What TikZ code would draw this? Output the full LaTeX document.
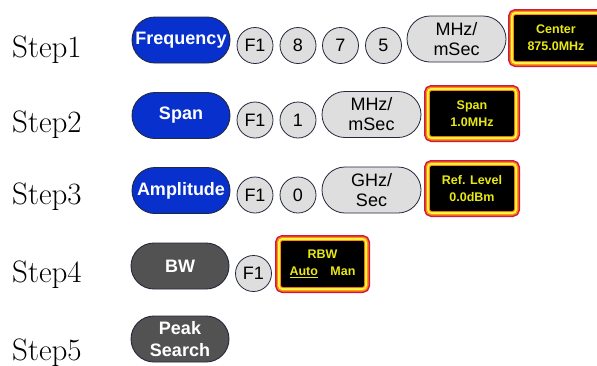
\documentclass[tikz,border=0pt]{standalone}
\usepackage{fontspec}
\usepackage{tikz}
\usetikzlibrary{shapes.misc}
\newfontfamily\keyfont{Liberation Sans}
\definecolor{keyblue}{RGB}{8,48,204}
\definecolor{keygray}{RGB}{82,82,82}
\definecolor{keylight}{RGB}{222,222,222}
\definecolor{keyedge}{RGB}{35,40,60}
\definecolor{dispred}{RGB}{205,25,70}
\definecolor{disporange}{RGB}{255,140,10}
\definecolor{dispyellow}{RGB}{255,250,70}
\definecolor{disptext}{RGB}{232,232,20}

\begin{document}
\begin{tikzpicture}[
    x=1pt, y=-1pt,
    steplabel/.style={anchor=base west, inner sep=0pt, font=\fontsize{31}{31}\selectfont},
    mainkey/.style={rounded rectangle, draw=keyedge, line width=0.9pt, fill=keyblue, text=white,
        minimum width=98pt, minimum height=46pt, inner sep=0pt, align=center,
        font=\keyfont\bfseries\fontsize{18}{22}\selectfont},
    graykey/.style={mainkey, fill=keygray},
    numkey/.style={circle, draw=keyedge, line width=0.8pt, fill=keylight, minimum size=36pt,
        inner sep=0pt, font=\keyfont\fontsize{18}{20}\selectfont},
    unitkey/.style={rounded rectangle, draw=keyedge, line width=0.8pt, fill=keylight,
        minimum width=99pt, minimum height=46pt, inner sep=0pt, align=center,
        font=\keyfont\fontsize{18}{20}\selectfont},
    display/.style={fill=black, text=disptext, align=center, inner sep=0pt, rounded corners=2pt,
        minimum width=84pt, minimum height=45pt,
        font=\keyfont\bfseries\fontsize{12.5}{17}\selectfont,
        preaction={draw=dispred, line width=12pt},
        preaction={draw=disporange, line width=9pt},
        preaction={draw=dispyellow, line width=6pt},
        preaction={draw=disporange, line width=2.4pt}}
]
\useasboundingbox (0,0) rectangle (597,365);
\clip (0,0) rectangle (597,365);

\node[steplabel] (st1) at (12,57) {Step1};
\node[steplabel] (st2) at (12,132) {Step2};
\node[steplabel] (st3) at (12,204) {Step3};
\node[steplabel] (st4) at (12,282) {Step4};
\node[steplabel] (st5) at (12,360) {Step5};

\node[mainkey] (freq) at (181,40) {Frequency};
\node[numkey] (f1a) at (255,45.5) {F1};
\node[numkey] (d8) at (298,45.5) {8};
\node[numkey] (d7) at (340.5,45.5) {7};
\node[numkey] (d5) at (383.5,45.5) {5};
\node[unitkey] (mhza) at (456.5,39) {MHz/\\mSec};
\node[display, minimum height=46pt] (center) at (556,38) {Center\\875.0MHz};

\node[mainkey] (span) at (181,115.5) {Span};
\node[numkey] (f1b) at (255,120) {F1};
\node[numkey] (d1) at (298,120) {1};
\node[unitkey] (mhzb) at (371.5,114.5) {MHz/\\mSec};
\node[display] (spandisp) at (472,113.5) {Span\\1.0MHz};

\node[mainkey] (ampl) at (181,190.5) {Amplitude};
\node[numkey] (f1c) at (255,195) {F1};
\node[numkey] (d0) at (298,195) {0};
\node[unitkey] (ghz) at (371.5,190) {GHz/\\Sec};
\node[display] (reflev) at (472,188.5) {Ref. Level\\0.0dBm};

\node[graykey] (bw) at (180,266) {BW};
\node[numkey] (f1d) at (253.5,273.5) {F1};
\node[display, minimum width=83pt, minimum height=46pt] (rbw) at (322.5,264) {RBW\\\underline{Auto}\quad Man};

\node[graykey] (peak) at (180,339) {Peak\\Search};
\end{tikzpicture}
\end{document}
